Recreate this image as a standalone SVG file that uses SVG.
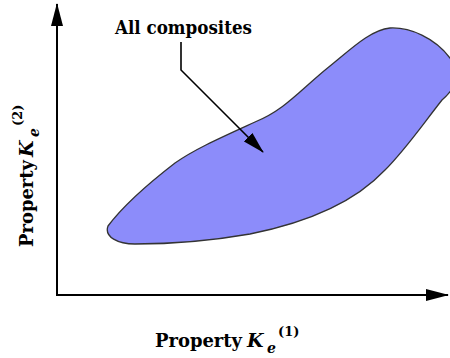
<svg xmlns="http://www.w3.org/2000/svg" width="450" height="358" viewBox="0 0 450 358">
<style>
text{font-family:'DejaVu Serif',serif;font-weight:bold;fill:#000}
.ax{stroke:#000;stroke-width:2;fill:none}
.ptr{stroke:#000;stroke-width:1.6;fill:none}
</style>
<defs>
<marker id="ah" markerWidth="23" markerHeight="12" refX="22" refY="6" orient="auto" markerUnits="userSpaceOnUse">
<path d="M0,0 L23,6 L0,12 Z" fill="#000"/>
</marker>
<marker id="ah2" markerWidth="22" markerHeight="12" refX="21" refY="6" orient="auto" markerUnits="userSpaceOnUse">
<path d="M0,0 L22,6 L0,12 Z" fill="#000"/>
</marker>
</defs>
<rect width="450" height="358" fill="#fff"/>
<g id="region">
<path d="M108,226 C120,210 140,190 175,163 C195,149 220,138 255,122 C285,110 300,90 330,66 C350,50 370,30 390,28 C410,27 435,38 450,58 C462,74 456,88 442,100 C420,128 405,150 385,170 C355,202 310,222 250,234 C210,241 170,244 135,244 C118,244 104,237 108,226 Z" fill="#8c8cfa" stroke="#333" stroke-width="1.3"/>
</g>
<g id="axes">
<path class="ax" d="M57,295 L57,4" marker-end="url(#ah)"/>
<path class="ax" d="M56,295 L448,295" marker-end="url(#ah)"/>
</g>
<g id="connectors">
<path class="ptr" d="M181,42 L181,70 L263,152" marker-end="url(#ah2)"/>
</g>
<g id="label-all">
<text x="115" y="34" font-size="18" textLength="137" lengthAdjust="spacingAndGlyphs">All composites</text>
</g>
<g id="xlabel">
<text y="347" font-size="19"><tspan x="155" textLength="87" lengthAdjust="spacingAndGlyphs">Property</tspan><tspan x="247" font-style="italic">K</tspan><tspan x="267" y="353" font-size="14" font-style="italic">e</tspan><tspan x="278" y="336" font-size="13">(1)</tspan></text>
</g>
<g id="ylabel">
<text transform="translate(33,247) rotate(-90)" y="0" font-size="19"><tspan x="0" textLength="87" lengthAdjust="spacingAndGlyphs">Property</tspan><tspan x="90" font-style="italic">K</tspan><tspan x="110" y="6" font-size="14" font-style="italic">e</tspan><tspan x="121" y="-11" font-size="13">(2)</tspan></text>
</g>
</svg>
